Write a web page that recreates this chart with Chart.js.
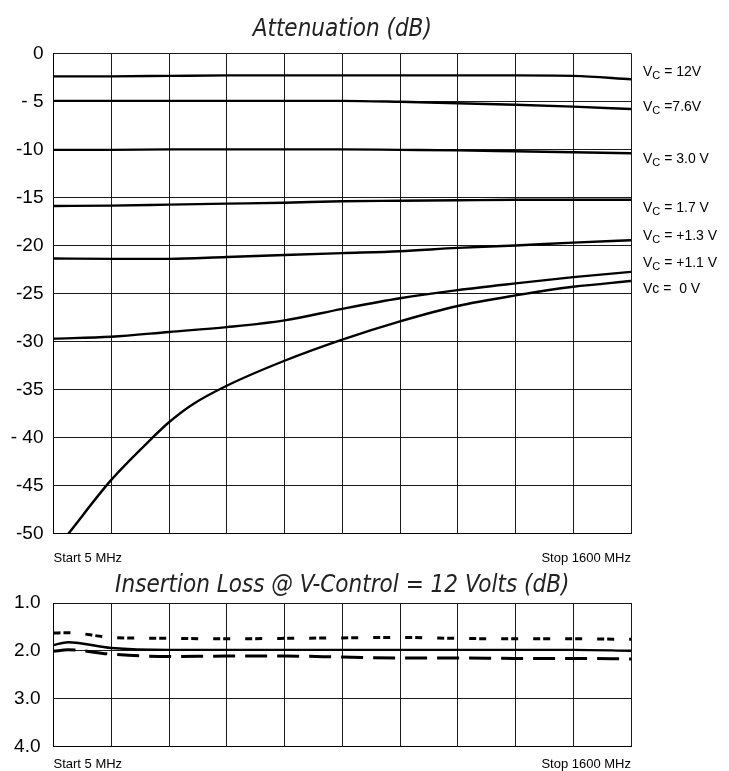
<!DOCTYPE html>
<html>
<head>
<meta charset="utf-8">
<script src="https://cdn.jsdelivr.net/npm/chart.js@4"></script>
<style>
    html, body { margin: 0; padding: 0; background: #fff; }
    body { width: 729px; height: 771px; position: relative; overflow: hidden; }
    .box { position: absolute; left: 0; width: 729px; }
    #attBox { top: 0; height: 585px; }
    #ilBox { top: 566px; height: 216px; }
</style>
</head>
<body>
<div class="box" id="attBox"><canvas id="attenuationChart"></canvas></div>
<div class="box" id="ilBox"><canvas id="insertionChart"></canvas></div>
<script>
// frequency grid (MHz), start 5 / stop 1600
const freqMHz = [5, 164.5, 324, 483.5, 643, 802.5, 962, 1121.5, 1281, 1440.5, 1600];

// attenuation (dB) per control voltage
const att12V = [-2.4, -2.4, -2.35, -2.3, -2.3, -2.3, -2.3, -2.3, -2.3, -2.35, -2.7];
const att76V = [-4.95, -4.95, -4.95, -4.95, -4.95, -4.95, -5.05, -5.2, -5.35, -5.55, -5.8];
const att30V = [-10.05, -10.05, -10.0, -10.0, -10.0, -10.0, -10.05, -10.1, -10.2, -10.3, -10.4];
const att17V = [-15.9, -15.85, -15.75, -15.65, -15.55, -15.4, -15.35, -15.3, -15.25, -15.25, -15.25];
const att13V = [-21.35, -21.4, -21.4, -21.2, -21.0, -20.8, -20.6, -20.25, -20.0, -19.7, -19.45];
const att11V = [-29.7, -29.5, -29.0, -28.5, -27.8, -26.6, -25.5, -24.65, -23.95, -23.3, -22.75];
const att0VFreq = [46, 164.5, 276, 324, 391, 483.5, 643, 802.5, 962, 1121.5, 1281, 1440.5, 1600];
const att0V = [-50, -44.4, -40.1, -38.4, -36.5, -34.6, -32.0, -29.8, -27.9, -26.3, -25.2, -24.3, -23.7];

// labels at the right of the attenuation plot, anchored at a dB value
const vcLabels = [
    { sub: true, rest: ' = 12V', at: -1.95 },
    { sub: true, rest: ' =7.6V', at: -5.6 },
    { sub: true, rest: ' = 3.0 V', at: -11.0 },
    { sub: true, rest: ' = 1.7 V', at: -16.1 },
    { sub: true, rest: ' = +1.3 V', at: -19.0 },
    { sub: true, rest: ' = +1.1 V', at: -21.8 },
    { sub: false, rest: 'Vc =  0 V', at: -24.5 }
];

// insertion loss (dB) at V-control = 12 V
const ilFreq = [5, 45, 164.5, 324, 483.5, 643, 802.5, 962, 1121.5, 1281, 1440.5, 1600];
const ilSolid = [1.88, 1.82, 1.94, 1.98, 1.98, 1.98, 1.98, 1.98, 1.98, 1.98, 1.98, 2.0];
const ilDotted = [1.63, 1.62, 1.72, 1.74, 1.75, 1.74, 1.73, 1.72, 1.74, 1.75, 1.75, 1.76];
const ilDashed = [2.01, 1.98, 2.07, 2.12, 2.11, 2.11, 2.13, 2.15, 2.15, 2.16, 2.16, 2.17];

const attTicks = { '-5': '- 5', '-40': '- 40' };

const sans = "'Liberation Sans', Arial, sans-serif";
const narrow = "'Liberation Sans Narrow', 'Arial Narrow', 'DejaVu Sans Condensed', sans-serif";
const gridColor = '#1a1a1a';

function pts(xs, ys) {
    return xs.map((x, i) => ({ x: x, y: ys[i] }));
}

function lineSet(xs, ys, extra) {
    return Object.assign({
        data: pts(xs, ys),
        borderColor: '#000',
        borderWidth: 2.4,
        pointRadius: 0,
        fill: false,
        cubicInterpolationMode: 'monotone'
    }, extra || {});
}

function xAxis(pad) {
    return {
        type: 'linear',
        min: 5,
        max: 1600,
        ticks: {
            stepSize: 159.5,
            autoSkip: false,
            maxRotation: 0,
            align: 'inner',
            padding: pad,
            color: '#000',
            font: { family: sans, size: 13 },
            callback: (v, i, all) => i === 0 ? 'Start 5 MHz' : (i === all.length - 1 ? 'Stop 1600 MHz' : '')
        },
        grid: { color: gridColor, lineWidth: 1, drawTicks: false },
        border: { color: '#000', width: 1 }
    };
}

const vcLabelPlugin = {
    id: 'vcLabels',
    afterDraw(chart) {
        const ctx = chart.ctx;
        const y = chart.scales.y;
        const x0 = chart.chartArea.right + 12;
        ctx.save();
        ctx.fillStyle = '#000';
        ctx.textBaseline = 'middle';
        vcLabels.forEach((lab) => {
            const py = y.getPixelForValue(lab.at);
            let px = x0;
            ctx.font = '14px ' + sans;
            if (lab.sub) {
                ctx.fillText('V', px, py);
                px += ctx.measureText('V').width;
                ctx.font = '11px ' + sans;
                ctx.fillText('C', px, py + 4);
                px += ctx.measureText('C').width;
                ctx.font = '14px ' + sans;
            }
            ctx.fillText(lab.rest, px, py);
        });
        ctx.restore();
    }
};

new Chart(document.getElementById('attenuationChart'), {
    type: 'line',
    data: {
        datasets: [
            lineSet(freqMHz, att12V),
            lineSet(freqMHz, att76V),
            lineSet(freqMHz, att30V),
            lineSet(freqMHz, att17V),
            lineSet(freqMHz, att13V),
            lineSet(freqMHz, att11V),
            lineSet(att0VFreq, att0V)
        ]
    },
    options: {
        responsive: true,
        maintainAspectRatio: false,
        animation: false,
        layout: { padding: { top: 0, right: 98, bottom: 1.7, left: 0 } },
        plugins: {
            legend: { display: false },
            tooltip: { enabled: false },
            title: {
                display: true,
                text: 'Attenuation (dB)',
                fullSize: false,
                color: '#222',
                font: { family: narrow, size: 24, style: 'italic', weight: 'normal', lineHeight: 1.2 },
                padding: { top: 15.6, bottom: 8.9 }
            }
        },
        scales: {
            x: xAxis(17),
            y: {
                min: -50,
                max: 0,
                ticks: {
                    stepSize: 5,
                    padding: 10,
                    color: '#000',
                    font: { family: sans, size: 19 },
                    callback: (v) => attTicks[String(v)] || String(v)
                },
                grid: { color: gridColor, lineWidth: 1, drawTicks: false },
                border: { color: '#000', width: 1 },
                afterFit(scale) { scale.width = 53.5; }
            }
        }
    },
    plugins: [vcLabelPlugin]
});

new Chart(document.getElementById('insertionChart'), {
    type: 'line',
    data: {
        datasets: [
            lineSet(ilFreq, ilDotted, { borderWidth: 3, borderDash: [7, 3, 7, 15] }),
            lineSet(ilFreq, ilSolid, { borderWidth: 2.4 }),
            lineSet(ilFreq, ilDashed, { borderWidth: 3, borderDash: [22, 10] })
        ]
    },
    options: {
        responsive: true,
        maintainAspectRatio: false,
        animation: false,
        layout: { padding: { top: 0, right: 98, bottom: 0, left: 0 } },
        plugins: {
            legend: { display: false },
            tooltip: { enabled: false },
            title: {
                display: true,
                text: 'Insertion Loss @ V-Control = 12 Volts (dB)',
                fullSize: false,
                color: '#222',
                font: { family: narrow, size: 24, style: 'italic', weight: 'normal', lineHeight: 1.2 },
                padding: { top: 5.6, bottom: 2.6 }
            }
        },
        scales: {
            x: xAxis(10),
            y: {
                min: 1,
                max: 4,
                reverse: true,
                ticks: {
                    stepSize: 1,
                    padding: 13,
                    color: '#000',
                    font: { family: sans, size: 19 },
                    callback: (v) => Number(v).toFixed(1)
                },
                grid: { color: gridColor, lineWidth: 1, drawTicks: false },
                border: { color: '#000', width: 1 },
                afterFit(scale) { scale.width = 53.5; }
            }
        }
    }
});
</script>
</body>
</html>
